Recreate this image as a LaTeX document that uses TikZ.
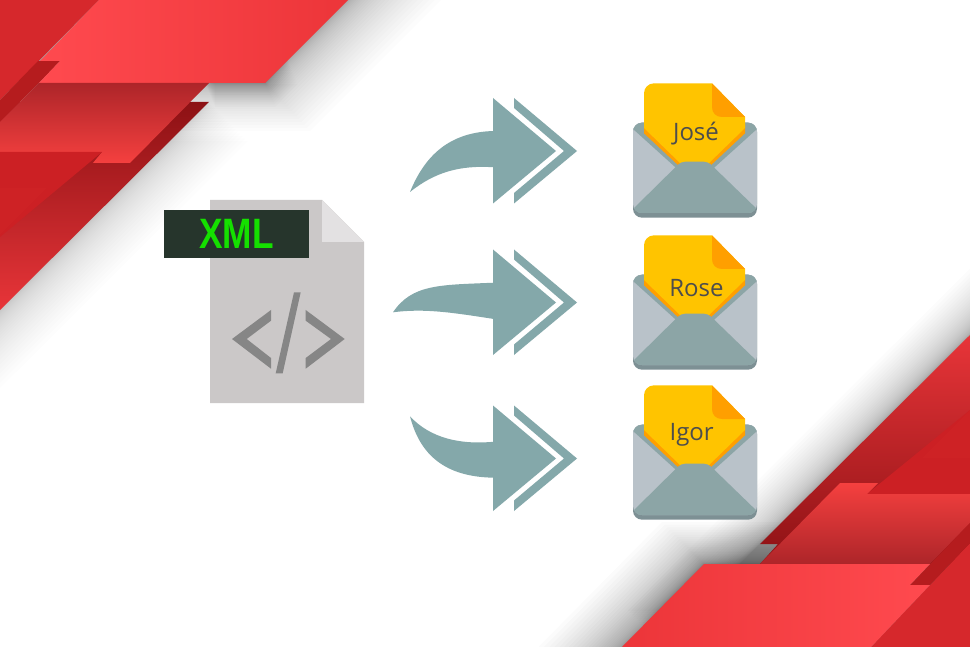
\documentclass[tikz,border=0pt]{standalone}
\usepackage{fontspec}
\setmainfont{Open Sans}
\newfontfamily\xmlfont{Liberation Sans}
\definecolor{arrowc}{HTML}{84A8AA}
\definecolor{docc}{HTML}{CBC8C8}
\definecolor{foldc}{HTML}{E3E1E2}
\definecolor{codec}{HTML}{868686}
\definecolor{labelc}{HTML}{26352C}
\definecolor{xmlc}{HTML}{15E000}
\definecolor{envl}{HTML}{B9C2C9}
\definecolor{envd}{HTML}{8CA5A6}
\definecolor{envs}{HTML}{7D9094}
\definecolor{yel}{HTML}{FFC400}
\definecolor{ora}{HTML}{FF9F00}
\definecolor{txtc}{HTML}{4D4D4D}
\definecolor{r1}{HTML}{FF4A4F}
\definecolor{r2}{HTML}{EC3539}
\definecolor{r3}{HTML}{D6282C}
\definecolor{r4}{HTML}{B51C1E}
\definecolor{r5}{HTML}{CC2024}
\definecolor{r6}{HTML}{8C1114}
\definecolor{r7}{HTML}{E83539}
\definecolor{r8}{HTML}{AD2529}
\definecolor{r9}{HTML}{F5403F}
\tikzset{
  arrowfill/.style={fill=arrowc},
  name text/.style={text=txtc,font=\fontsize{24}{24}\selectfont,anchor=base,inner sep=0pt},
}
\newcommand{\mailicon}[5]{%
  \begin{scope}[shift={(0,#1)}]
    \fill[envs,rounded corners=9] (633,122.7) rectangle (757,217.7);
    \fill[envl,rounded corners=9] (633,122.7) rectangle (757,213);
    \begin{scope}
      \clip[rounded corners=9] (633,122.7) rectangle (757,213);
      \fill[envd] (633,122) -- (757,122) -- (757,129) -- (695,185) -- (633,129) -- cycle;
    \end{scope}
    \fill[ora] (644,125) -- (745,125) -- (745,133.3) -- (709,167) -- (680,167) -- (644,133.3) -- cycle;
    \fill[yel] (644,128) [rounded corners=10] -- (644,83.3) [sharp corners] -- (712,83.3) -- (745,117) -- (745,128) -- (707,165) -- (682,165) -- cycle;
    \fill[ora] (712,83.3) -- (745,117) -- (722,117) .. controls (716,117) and (712,113) .. (712,107) -- cycle;
    \begin{scope}
      \clip[rounded corners=9] (633,122.7) rectangle (757,213);
      \fill[envd,rounded corners=4] (630,213) -- (630,212) -- (681,161.7) -- (708,161.7) -- (760,212) -- (760,213) -- cycle;
      \fill[envd] (633,209) rectangle (757,214);
    \end{scope}
    \node[name text] (#2) at (#3,#4) {#5};
  \end{scope}
}
\newcommand{\doublehead}[1]{%
  \begin{scope}[shift={(0,#1)}]
    \fill[arrowfill] (493,98) -- (556,151) -- (493,203.5) -- cycle;
    \fill[arrowfill] (514,98) -- (577,151) -- (514,203.5) -- (514,193) -- (564,151) -- (514,108) -- cycle;
  \end{scope}
}
\begin{document}
\begin{tikzpicture}[x=1pt,y=-1pt]
\useasboundingbox (0,0) rectangle (970,647);
\clip (0,0) rectangle (970,647);
\fill[white] (0,0) rectangle (970,647);
% soft shadows
\foreach \i in {1,...,30}{
  \fill[black,opacity=.01,shift={({\i*\i/30*1.5},{\i*\i/30*1.6})}] (-100,-60) -- (408,-60) -- (265,83) -- (-100,83) -- cycle;
}
\foreach \i in {1,...,20}{
  \fill[black,opacity=.012,shift={({\i*\i/20*.5},{\i*\i/20*1.2})}] (205,60) -- (288,60) -- (265,83) -- (205,83) -- cycle;
}
\foreach \i in {1,...,30}{
  \fill[black,opacity=.008,shift={({\i*\i/30*1.3},{\i*\i/30*1.3})}] (-100,410) -- (209,102) -- (-100,102) -- cycle;
}
\foreach \i in {1,...,30}{
  \fill[black,opacity=.012,shift={({-\i*\i/30*1.1},{-\i*\i/30*1.1})}] (660,644) -- (760,544) -- (1100,205) -- (1100,644) -- cycle;
}
\foreach \i in {1,...,30}{
  \fill[black,opacity=.014,shift={({-\i*\i/30*1.4},{-\i*\i/30*1.4})}] (540,730) -- (704,564) -- (1100,564) -- (1100,730) -- cycle;
}
% top-left red layers
\shade[top color=r6,middle color=r4!50!r3,bottom color=r7] (0,310) -- (209,102) -- (0,102) -- cycle;
\fill[r3] (0,0) -- (99,0) -- (0,100) -- cycle;
\fill[r4] (0,100) -- (38,61) -- (60,61) -- (39,83) -- (0,122) -- cycle;
\shade[left color=r1,right color=r2] (99,0) -- (348,0) -- (265,83) -- (39,83) -- (60,61) -- (40,61) -- cycle;
\shade[top color=r8,middle color=r9!92!r8,bottom color=r9] (39,83) -- (209,83) -- (130,163) -- (93,163) -- (102,152) -- (0,152) -- (0,122) -- cycle;
\fill[r5] (0,152) -- (102,152) -- (0,237) -- cycle;
\fill[r5!80!r3] (0,188) -- (47,188) -- (0,235) -- cycle;
% bottom-right red layers
\shade[top color=r7,middle color=r4!50!r3,bottom color=r6] (970,335) -- (970,564) -- (760,564) -- (778,544) -- (760,544) -- cycle;
\fill[r5] (867,494) -- (970,410) -- (970,494) -- cycle;
\fill[r5!80!r3] (922,458) -- (970,410) -- (970,458) -- cycle;
\shade[top color=r9,middle color=r9!92!r8,bottom color=r8] (840,483) -- (878,483) -- (867,494) -- (970,494) -- (970,523) -- (930,564) -- (760,564) -- cycle;
\fill[r3] (871,647) -- (930,585) -- (970,543) -- (970,647) -- cycle;
\fill[r4] (910,585) -- (970,523) -- (970,543) -- (930,585) -- cycle;
\shade[left color=r2,right color=r1] (704,564) -- (930,564) -- (910,585) -- (930,585) -- (871,647) -- (622,647) -- cycle;
% document
\fill[docc] (210,200) -- (322,200) -- (364,242) -- (364,403) -- (210,403) -- cycle;
\fill[foldc] (322,200) -- (364,242) -- (322,242) -- cycle;
\node[fill=labelc,minimum width=145pt,minimum height=48pt,inner sep=0pt,anchor=north west] (xmltag) at (164,210) {};
\node[anchor=base,inner sep=0pt,text=xmlc] (xmltext) at (236.5,249) {\xmlfont\bfseries\fontsize{42.5}{42.5}\selectfont\scalebox{.83}[1]{XML}};
\fill[codec] (271,310) -- (232,339) -- (271,368.7) -- (271,358) -- (246.7,339) -- (271,320.7) -- cycle;
\fill[codec] (305.7,310) -- (344.7,339) -- (305.7,368.7) -- (305.7,358) -- (331,339) -- (305.7,320.7) -- cycle;
\fill[codec] (294,292.3) -- (300.7,292.3) -- (282.7,373.3) -- (275.7,373.3) -- cycle;
% arrows
\doublehead{0}
\fill[arrowfill] (494,131) .. controls (450,132) and (425,155) .. (410,192) .. controls (435,172) and (460,165) .. (494,167.3) -- cycle;
\doublehead{151.5}
\fill[arrowfill] (494,282.7) .. controls (440,285) and (412,284) .. (393,312.3) .. controls (425,308) and (455,313) .. (494,319) -- cycle;
\doublehead{307.5}
\fill[arrowfill] (494,441.7) .. controls (460,445) and (430,438) .. (410,416.3) .. controls (420,455) and (445,477) .. (494,477.7) -- cycle;
% mail icons
\mailicon{0}{jose}{696}{141}{José}
\mailicon{152}{rose}{696.5}{144.5}{Rose}
\mailicon{302}{igor}{691.7}{138}{Igor}
\end{tikzpicture}
\end{document}
